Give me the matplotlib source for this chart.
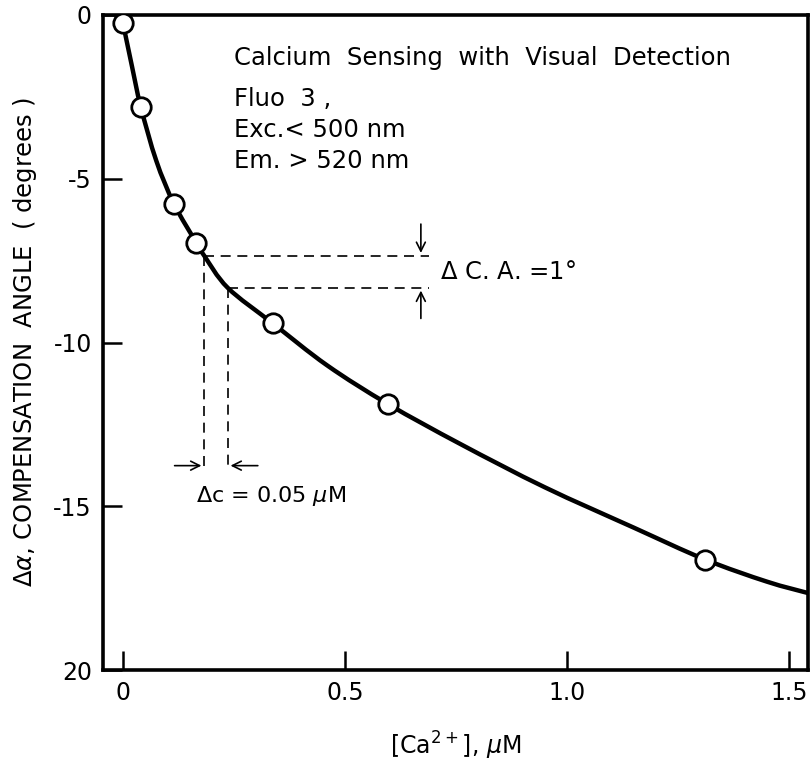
import numpy as np
import matplotlib
matplotlib.use("Agg")
import matplotlib.pyplot as plt
from matplotlib.path import Path
from matplotlib.patches import PathPatch

# Measured calcium points (concentration in uM, compensation angle in degrees)
ca_conc = [0.0, 0.04, 0.115, 0.165, 0.337, 0.597, 1.31]
comp_angle = [-0.25, -2.8, -5.77, -6.95, -9.41, -11.88, -16.65]

# Points along the drawn calibration curve
curve_x = [0.0, 0.02, 0.04, 0.075, 0.115, 0.165, 0.183, 0.236, 0.337, 0.46,
           0.597, 0.76, 0.95, 1.15, 1.31, 1.45, 1.543]
curve_y = [-0.25, -1.55, -2.8, -4.45, -5.77, -6.95, -7.35, -8.33, -9.41, -10.7,
           -11.88, -13.1, -14.42, -15.65, -16.62, -17.3, -17.65]

# Resolution construction
ca_lo, ca_hi = 0.183, 0.236
ang_lo, ang_hi = -7.35, -8.33

xticks = [0, 0.5, 1.0, 1.5]
xticklabels = ["0", "0.5", "1.0", "1.5"]
yticks = [0, -5, -10, -15, -20]
yticklabels = ["0", "-5", "-10", "-15", "20"]


def smooth_path(xs, ys):
    """Catmull-Rom curve through the given points as a cubic Bezier path."""
    pts = np.column_stack([xs, ys])
    verts = [pts[0]]
    codes = [Path.MOVETO]
    n = len(pts)
    for i in range(n - 1):
        p0 = pts[i - 1] if i > 0 else pts[i]
        p1 = pts[i]
        p2 = pts[i + 1]
        p3 = pts[i + 2] if i + 2 < n else pts[i + 1]
        c1 = p1 + (p2 - p0) / 6.0
        c2 = p2 - (p3 - p1) / 6.0
        verts += [c1, c2, p2]
        codes += [Path.CURVE4] * 3
    return Path(verts, codes)


fig = plt.figure(figsize=(8.12, 7.69), dpi=100)
ax = fig.add_axes([103 / 812, 1 - 670 / 769, 705 / 812, 655 / 769])

ax.set_xlim(-0.045, 1.543)
ax.set_ylim(-20, 0)

ax.add_patch(PathPatch(smooth_path(curve_x, curve_y), facecolor="none",
                       edgecolor="black", lw=3.2, zorder=3))
ax.plot(ca_conc, comp_angle, "o", ms=14, mfc="white", mec="black", mew=2,
        zorder=4)

dash = dict(color="black", lw=1.2, ls=(0, (6, 4)))
ax.plot([ca_lo, 0.69], [ang_lo, ang_lo], **dash)
ax.plot([ca_hi, 0.69], [ang_hi, ang_hi], **dash)
ax.plot([ca_lo, ca_lo], [ang_lo, -13.9], **dash)
ax.plot([ca_hi, ca_hi], [ang_hi, -13.9], **dash)

arr = dict(arrowstyle="->", color="black", lw=1.2, mutation_scale=16)
ax.annotate("", xy=(0.671, ang_lo), xytext=(0.671, -6.3), arrowprops=arr)
ax.annotate("", xy=(0.671, ang_hi), xytext=(0.671, -9.35), arrowprops=arr)
ax.annotate("", xy=(ca_lo, -13.76), xytext=(0.11, -13.76), arrowprops=arr)
ax.annotate("", xy=(ca_hi, -13.76), xytext=(0.31, -13.76), arrowprops=arr)

ax.text(0.714, -7.85, r"$\Delta$ C. A. =1°", fontsize=17.5, va="center",
        ha="left")
ax.text(0.165, -14.7, r"$\Delta$c = 0.05 $\mu$M", fontsize=16, va="center",
        ha="left")

ax.text(0.25, -1.3, "Calcium  Sensing  with  Visual  Detection", fontsize=17.5,
        va="center", ha="left")
ax.text(0.25, -2.55, "Fluo  3 ,", fontsize=17.5, va="center", ha="left")
ax.text(0.25, -3.5, "Exc.< 500 nm", fontsize=17.5, va="center", ha="left")
ax.text(0.25, -4.45, "Em. > 520 nm", fontsize=17.5, va="center", ha="left")

ax.set_xticks(xticks)
ax.set_xticklabels(xticklabels)
ax.set_yticks(yticks)
ax.set_yticklabels(yticklabels)
ax.tick_params(direction="in", length=14, width=1.8, labelsize=17, pad=8)
for s in ax.spines.values():
    s.set_linewidth(2.6)

ax.set_xlabel(r"[Ca$^{2+}$], $\mu$M", fontsize=17, labelpad=18)
ax.set_ylabel(r"$\Delta\alpha$, COMPENSATION  ANGLE  ( degrees )",
              fontsize=17.5, labelpad=10)

fig.savefig("out.png", dpi=100)
